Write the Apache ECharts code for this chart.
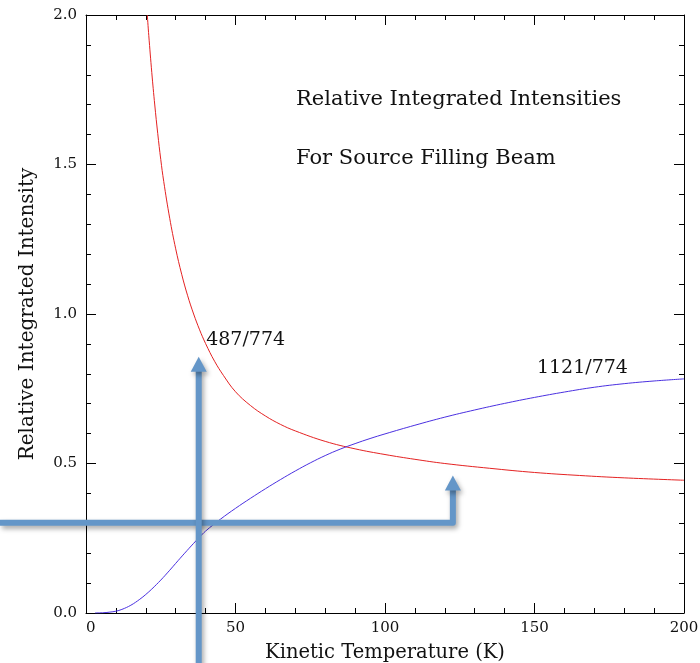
<!DOCTYPE html>
<html>
<head>
<meta charset="utf-8">
<script src="https://cdn.jsdelivr.net/npm/echarts@6/dist/echarts.min.js"></script>
<style>html,body{margin:0;padding:0;background:#fff}#c{width:700px;height:663px}</style>
</head>
<body>
<div id="c"></div>
<script>
// ---- data ----
var redT = [20.5, 21, 22, 23, 24, 25, 26, 28, 30, 32, 34, 36, 38, 40, 43, 46, 50, 55, 60, 65, 70, 80, 90, 100, 110, 120, 135, 150, 165, 180, 200];
var redV = [2.000, 1.931, 1.808, 1.699, 1.603, 1.517, 1.443, 1.320, 1.218, 1.133, 1.061, 1.000, 0.947, 0.901, 0.842, 0.794, 0.740, 0.694, 0.659, 0.631, 0.609, 0.574, 0.549, 0.530, 0.514, 0.500, 0.484, 0.470, 0.460, 0.452, 0.444];
var blueT = [3, 6, 8, 10, 12, 15, 18, 20, 22, 25, 28, 30, 33, 36, 38, 40, 45, 50, 55, 60, 65, 70, 75, 80, 85, 90, 95, 100, 110, 120, 130, 140, 150, 160, 170, 180, 190, 200];
var blueV = [0, 0.001, 0.003, 0.006, 0.012, 0.026, 0.046, 0.062, 0.080, 0.110, 0.143, 0.166, 0.200, 0.233, 0.254, 0.274, 0.314, 0.350, 0.3835, 0.4155, 0.446, 0.475, 0.502, 0.5265, 0.548, 0.5665, 0.5835, 0.599, 0.628, 0.655, 0.679, 0.701, 0.721, 0.739, 0.755, 0.767, 0.776, 0.783];
var xTicks = [0, 50, 100, 150, 200];
var yTicks = [0.0, 0.5, 1.0, 1.5, 2.0];
var titleLines = ['Relative Integrated Intensities', 'For Source Filling Beam'];
var curveLabels = [{text: '487/774', T: 40.2, v: 0.912}, {text: '1121/774', T: 150.8, v: 0.82}];
// annotation arrows (data units)
var arrowUp = {T: 37.7, from: -0.25, tip: 0.857};
var arrowL = {fromT: -32, level: 0.302, T: 122.7, tip: 0.46};

var FONT = 'DejaVu Serif';
function zip(a, b) { return a.map(function (x, i) { return [x, b[i]]; }); }

var chart = echarts.init(document.getElementById('c'), null, {renderer: 'canvas'});
function axisCommon() {
  return {
    axisLine: {show: true, onZero: false, lineStyle: {color: '#000', width: 1}},
    axisTick: {show: true, inside: true, length: 10, lineStyle: {color: '#000'}},
    minorTick: {show: true, splitNumber: 5, length: 5, lineStyle: {color: '#000'}},
    splitLine: {show: false}
  };
}
var labelStyle = {color: '#111', fontFamily: FONT, fontSize: 15};

chart.setOption({
  animation: false,
  backgroundColor: '#fff',
  grid: {left: 86, right: 16, top: 15, bottom: 50, containLabel: false, outerBoundsMode: 'none'},
  xAxis: [
    Object.assign(axisCommon(), {
      type: 'value', min: xTicks[0], max: xTicks[xTicks.length - 1], interval: 50, position: 'bottom',
      name: 'Kinetic Temperature (K)', nameLocation: 'middle', nameGap: 30,
      nameTextStyle: {color: '#111', fontFamily: FONT, fontSize: 19.5},
      axisLabel: Object.assign({margin: 8, alignMinLabel: 'left'}, labelStyle)
    }),
    Object.assign(axisCommon(), {
      type: 'value', min: xTicks[0], max: xTicks[xTicks.length - 1], interval: 50, position: 'top',
      axisLabel: {show: false}
    })
  ],
  yAxis: [
    Object.assign(axisCommon(), {
      type: 'value', min: yTicks[0], max: yTicks[yTicks.length - 1], interval: 0.5, position: 'left',
      name: 'Relative Integrated Intensity', nameLocation: 'middle', nameGap: 48,
      nameTextStyle: {color: '#111', fontFamily: FONT, fontSize: 20},
      axisLabel: Object.assign({margin: 9, formatter: function (v) { return v.toFixed(1); }}, labelStyle)
    }),
    Object.assign(axisCommon(), {
      type: 'value', min: yTicks[0], max: yTicks[yTicks.length - 1], interval: 0.5, position: 'right',
      axisLabel: {show: false}
    })
  ],
  series: [
    {type: 'line', data: zip(redT, redV), showSymbol: false, smooth: 0.4,
     lineStyle: {color: '#e42222', width: 1}, clip: true, z: 3},
    {type: 'line', data: zip(blueT, blueV), showSymbol: false, smooth: 0.4,
     lineStyle: {color: '#4a30e0', width: 1}, clip: true, z: 3}
  ]
});

function px(T, v) { return chart.convertToPixel({gridIndex: 0}, [T, v]); }

var ARROW = '#6496c8';
var shadow = {shadowBlur: 5, shadowColor: 'rgba(0,0,0,0.35)', shadowOffsetX: 2, shadowOffsetY: 3};
var headW = 16, headH = 15;
var els = [];

// title texts
els.push({type: 'text', x: 296, y: 100, z: 10, style: {text: titleLines[0], fill: '#111', font: '21px "' + FONT + '"', textVerticalAlign: 'middle'}});
els.push({type: 'text', x: 296, y: 159, z: 10, style: {text: titleLines[1], fill: '#111', font: '21px "' + FONT + '"', textVerticalAlign: 'middle'}});
curveLabels.forEach(function (c) {
  var p = px(c.T, c.v);
  els.push({type: 'text', x: p[0], y: p[1], z: 10, style: {text: c.text, fill: '#111', font: '19px "' + FONT + '"', textVerticalAlign: 'middle'}});
});

// L-shaped arrow
var a = px(arrowL.fromT, arrowL.level), b = px(arrowL.T, arrowL.level), t2 = px(arrowL.T, arrowL.tip);
els.push({type: 'polyline', z: 20, shape: {points: [[0, a[1]], [b[0], b[1]], [b[0], t2[1] + headH - 1]]},
  style: Object.assign({stroke: ARROW, lineWidth: 6, lineJoin: 'round', fill: null}, shadow)});
els.push({type: 'polygon', z: 20, shape: {points: [[t2[0], t2[1]], [t2[0] - headW / 2, t2[1] + headH], [t2[0] + headW / 2, t2[1] + headH]]},
  style: Object.assign({fill: ARROW}, shadow)});

// vertical arrow
var v0 = px(arrowUp.T, arrowUp.from), v1 = px(arrowUp.T, arrowUp.tip);
els.push({type: 'line', z: 21, shape: {x1: v0[0], y1: 700, x2: v1[0], y2: v1[1] + headH - 1},
  style: Object.assign({stroke: ARROW, lineWidth: 6}, shadow)});
els.push({type: 'polygon', z: 21, shape: {points: [[v1[0], v1[1]], [v1[0] - headW / 2, v1[1] + headH], [v1[0] + headW / 2, v1[1] + headH]]},
  style: Object.assign({fill: ARROW}, shadow)});

chart.setOption({graphic: {elements: els}});
</script>
</body>
</html>
